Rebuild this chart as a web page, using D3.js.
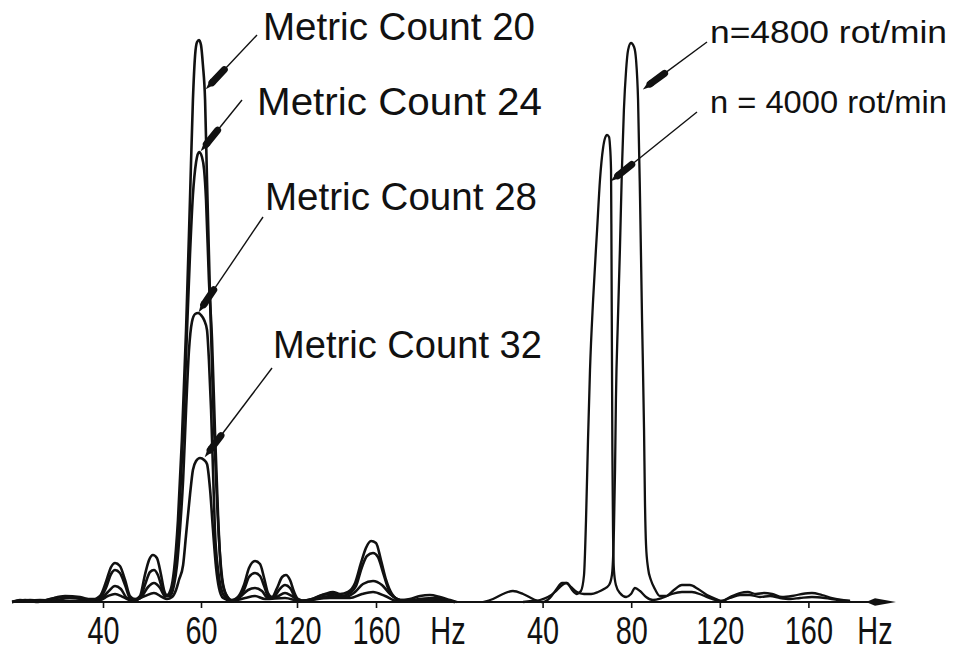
<!DOCTYPE html>
<html>
<head>
<meta charset="utf-8">
<script src="https://cdn.jsdelivr.net/npm/d3@7"></script>
<style>
  html, body { margin: 0; padding: 0; background: #fff; }
  svg { display: block; }
  text { font-family: "Liberation Sans", Arial, sans-serif; fill: #111; }
</style>
</head>
<body>
<div id="chart"></div>
<script>
// left panel: yarn spectra for four metric counts, [Hz, relative amplitude]
const mc20 = [[2.9,0],[6.1,1],[10.2,0.5],[13.5,0],[18.4,1.5],[24.5,3],[30.6,2.5],[35.5,1],[38.8,3],[41.2,10],[43.3,17.5],[44.9,19.5],[46.9,18],[49.0,11],[51.0,3],[53.1,1.5],[55.1,3],[57.1,13.5],[58.8,21],[60.4,23.5],[62.0,22],[63.7,13.5],[64.9,6],[66.1,3.5],[67.8,7],[69.0,16],[70.6,41],[72.2,81],[73.9,136],[75.5,201],[76.7,251],[77.6,273.5],[78.4,280],[79.2,281],[80.0,278.5],[80.8,268.5],[81.7,251],[82.5,211],[83.8,151],[85.0,101],[86.3,61],[87.5,31],[88.8,12],[90.4,4],[92.9,1],[95.4,2.5],[97.9,8.5],[100.0,17],[102.5,20.5],[104.6,19],[106.3,12],[107.9,4.5],[109.6,2.5],[111.7,7],[113.8,12.5],[115.4,13.5],[117.1,11],[118.8,5],[120.5,1.5],[124.1,0.5],[129.1,2],[134.2,4],[138.2,5],[141.8,4],[145.8,5],[149.4,9.5],[152.4,19.5],[154.9,27],[157.5,30.5],[160.0,29.5],[162.5,21],[165.1,11],[168.1,4],[172.2,1],[177.2,1.5],[182.3,3],[187.3,3.5],[192.4,2.5],[197.5,1],[201.0,0]];
const mc24 = [[2.9,0],[8.2,1],[14.3,0.5],[20.4,2],[26.5,2.5],[32.7,1.5],[36.7,1.5],[38.8,2],[41.2,7],[43.3,14],[44.9,16],[46.9,14.5],[49.0,8.5],[51.0,2],[53.1,1],[55.1,2],[57.1,8.5],[59.2,15],[60.8,16],[62.4,13.5],[64.1,7],[65.3,3],[66.5,3],[68.2,7],[69.4,16],[70.6,33.5],[71.8,61],[73.1,96],[74.3,136],[75.5,173.5],[76.7,203.5],[78.0,220],[79.2,225],[80.4,222.5],[81.3,216],[82.1,201],[83.3,161],[84.6,131],[85.8,86],[87.1,43.5],[88.3,16],[89.6,6],[91.3,2],[92.9,0.5],[95.4,2],[97.9,6],[100.0,12.5],[102.5,14.5],[104.6,13],[106.3,8],[107.9,3],[110.0,2],[112.5,6],[115.0,8.5],[117.1,7],[119.2,2.5],[121.5,0.5],[127.6,1.5],[132.7,3.5],[137.7,4],[142.8,3],[146.8,4.5],[149.9,8],[152.9,17.5],[155.4,23],[158.5,24.5],[161.0,22.5],[163.5,15],[166.1,7],[169.1,2.5],[174.7,0.5],[182.3,1.5],[189.9,2],[197.5,0.5]];
const mc28 = [[2.9,0],[10.2,1],[18.4,0.5],[26.5,2],[33.9,1],[36.7,0.5],[39.6,2],[42.0,5],[44.9,8],[47.3,6.5],[49.8,2],[53.1,1],[55.9,3],[58.4,7.5],[60.8,9.5],[63.3,7],[65.3,3],[67.3,3],[69.0,8.5],[70.2,18.5],[71.4,36],[72.7,61],[73.9,96],[75.1,126],[76.3,140],[77.6,144],[78.8,144.5],[80.0,143.5],[81.3,141],[82.5,136],[83.3,121],[84.2,96],[85.0,66],[85.8,36],[87.1,16],[88.3,7],[90.0,2.5],[92.9,0.5],[96.3,2.5],[99.6,6],[102.5,7],[105.4,5.5],[107.9,2],[111.3,2.5],[115.0,4.5],[117.9,3],[121.5,0.5],[129.1,1.5],[136.7,3],[144.3,2.5],[149.4,5],[153.4,9],[158.5,10.5],[163.0,8.5],[167.1,4],[172.2,1],[182.3,0.5],[192.4,1],[200.0,0]];
const mc32 = [[2.9,0],[14.3,1],[26.5,0.5],[38.8,1],[42.0,3],[44.9,4],[48.2,2.5],[51.8,0.5],[57.1,3],[60.8,4.5],[64.1,2.5],[66.1,1.5],[68.2,2.5],[69.8,6],[71.0,11],[72.7,18.5],[73.9,33.5],[75.5,53.5],[76.7,66],[78.0,70.5],[79.6,72],[81.3,71],[82.5,69],[83.8,56],[85.0,36],[86.3,17],[87.5,7],[89.2,2],[92.9,0.5],[98.4,2],[102.5,3],[106.7,1.5],[115.0,2],[121.5,0.5],[136.7,2],[146.8,2],[152.9,4],[158.5,5],[164.6,3],[170.6,0.5],[182.3,1],[200.0,0]];

// right panel: spectra at two spindle speeds
const n4800 = [[31.2,0],[35.2,0.5],[38.8,1],[42.4,2.5],[45.6,5],[48.3,8],[50.6,9.5],[52.8,7.5],[55.5,5],[58.7,4],[61.9,4],[65.0,5],[67.7,6.5],[70.0,8.5],[71.3,13.5],[72.2,36],[72.7,66],[73.1,101],[74.0,141],[74.9,176],[75.8,216],[76.7,246],[77.7,266],[78.6,276],[79.9,279.5],[81.3,277.5],[82.2,271],[83.1,251],[84.0,201],[84.9,141],[85.8,86],[86.2,51],[86.7,28.5],[87.6,17],[88.9,11],[90.7,6.5],[93.0,3],[95.7,3],[99.3,6],[102.9,8.5],[106.5,8.5],[110.2,6.5],[114.2,3.5],[118.3,1.5],[121.0,0.5],[124.6,2.5],[129.1,4.5],[132.7,5],[136.3,4],[140.0,4.5],[143.6,4],[148.1,2.5],[152.6,3],[157.1,4],[161.6,4.5],[166.1,3.5],[170.7,2],[175.2,1],[178.8,0.5]];
const n4000 = [[13.1,0],[17.6,1.5],[22.1,4],[26.6,5.5],[31.2,4],[35.7,1.5],[39.7,0],[43.3,2],[46.0,6],[48.8,9.5],[51.0,9.5],[53.3,6],[55.5,4],[57.3,5.5],[58.7,13.5],[59.6,41],[60.5,81],[61.4,116],[62.8,151],[64.6,186],[65.9,211],[67.3,227],[68.2,232],[69.1,233.5],[70.0,232.5],[70.4,228.5],[70.9,216],[71.1,176],[71.3,126],[71.5,76],[71.8,36],[72.2,16],[73.1,8.5],[74.9,4.5],[77.7,2.5],[79.9,4],[81.7,7],[84.0,5.5],[86.7,2.5],[89.8,1],[93.9,2],[98.4,4],[102.9,5],[107.4,5],[112.0,3.5],[116.5,1.5],[120.5,0.5],[124.6,2],[129.1,3.5],[133.6,3.5],[138.1,2.5],[142.7,3],[147.2,2],[151.7,1.5],[156.2,2],[161.6,2.5],[167.5,2],[173.4,1],[178.8,0.5]];

const leftTicks = [40, 80, 120, 160];
const leftTickLabels = ["40", "60", "120", "160"];
const rightTicks = [40, 80, 120, 160];
const rightTickLabels = ["40", "80", "120", "160"];

const leftNames = ["Metric Count 20", "Metric Count 24", "Metric Count 28", "Metric Count 32"];
const rightNames = ["n=4800 rot/min", "n = 4000 rot/min"];
// points on the curves that the leader lines touch
const leftTargets = [[81.7, 256], [79.6, 225], [78.8, 144.5], [81.3, 72]];
const rightTargets = [[84.9, 256], [70.4, 210]];

const width = 958, height = 653;
const base = 602;

const svg = d3.select("#chart").append("svg")
  .attr("width", width)
  .attr("height", height);

const xLeft = d3.scaleLinear().domain([40, 80, 120, 160]).range([103, 201, 297, 376]);
const xRight = d3.scaleLinear().domain([0, 200]).range([454, 897]);
const y = d3.scaleLinear().domain([0, 281]).range([base, 40]);

// baseline running under both panels, ending in an arrow
svg.append("line")
  .attr("x1", 12).attr("x2", 870)
  .attr("y1", base).attr("y2", base)
  .attr("stroke", "#111").attr("stroke-width", 1.8);
svg.append("path")
  .attr("d", `M866,${base} L875,${base - 3.8} L896,${base} L875,${base + 3.8} Z`)
  .attr("fill", "#111");

function addAxis(scale, ticks, labels, hzX) {
  const g = svg.append("g")
    .attr("transform", `translate(0,${base})`)
    .call(d3.axisBottom(scale)
      .tickValues(ticks)
      .tickFormat((d, i) => labels[i])
      .tickSize(6)
      .tickPadding(0));
  g.select(".domain").remove();
  g.selectAll(".tick line").attr("stroke", "#111").attr("stroke-width", 1.6);
  g.selectAll(".tick text")
    .attr("y", 42).attr("dy", null)
    .attr("font-size", 38)
    .attr("font-family", "Liberation Sans, Arial, sans-serif")
    .attr("fill", "#111")
    .attr("transform", "scale(0.76,1)");
  g.append("text")
    .attr("transform", `translate(${hzX},42) scale(0.76,1)`)
    .attr("text-anchor", "middle")
    .attr("font-size", 38)
    .text("Hz");
}
addAxis(xLeft, leftTicks, leftTickLabels, 448);
addAxis(xRight, rightTicks, rightTickLabels, 875);

const lineLeft = d3.line().x(d => xLeft(d[0])).y(d => y(d[1])).curve(d3.curveMonotoneX);
const lineRight = d3.line().x(d => xRight(d[0])).y(d => y(d[1])).curve(d3.curveMonotoneX);

svg.selectAll(".left-curve")
  .data([mc32, mc28, mc24, mc20])
  .join("path")
  .attr("class", "left-curve")
  .attr("d", lineLeft)
  .attr("fill", "none")
  .attr("stroke", "#111")
  .attr("stroke-width", 2.6)
  .attr("stroke-linejoin", "round");

svg.selectAll(".right-curve")
  .data([n4000, n4800])
  .join("path")
  .attr("class", "right-curve")
  .attr("d", lineRight)
  .attr("fill", "none")
  .attr("stroke", "#111")
  .attr("stroke-width", 2.3)
  .attr("stroke-linejoin", "round");

// leader line: thin stroke with an elongated pointer at the curve
function pointer(fx, fy, tx, ty) {
  const dx = tx - fx, dy = ty - fy;
  const len = Math.hypot(dx, dy);
  const ux = dx / len, uy = dy / len;
  const px = -uy, py = ux;
  svg.append("line")
    .attr("x1", fx).attr("y1", fy).attr("x2", tx - ux * 20).attr("y2", ty - uy * 20)
    .attr("stroke", "#111").attr("stroke-width", 1.4);
  svg.append("line")
    .attr("x1", tx - ux * 28).attr("y1", ty - uy * 28)
    .attr("x2", tx - ux * 10).attr("y2", ty - uy * 10)
    .attr("stroke", "#111").attr("stroke-width", 7).attr("stroke-linecap", "round");
  const bx = tx - ux * 12, by = ty - uy * 12;
  svg.append("path")
    .attr("d", `M${bx + px * 3.6},${by + py * 3.6} L${tx - ux},${ty - uy} L${bx - px * 3.6},${by - py * 3.6} Z`)
    .attr("fill", "#111");
}

// label layout: [text x, baseline y, text length, leader start x, leader start y]
const leftLayout = [[263, 40, 272, 257, 35], [257, 115, 285, 242, 100], [265, 210, 272, 263, 217], [273, 358, 269, 272, 368]];
const rightLayout = [[710, 43, 237, 707, 42], [710, 113, 237, 697, 112]];

leftNames.forEach((name, i) => {
  const L = leftLayout[i];
  svg.append("text")
    .attr("x", L[0]).attr("y", L[1])
    .attr("font-size", 38)
    .attr("textLength", L[2])
    .attr("lengthAdjust", "spacingAndGlyphs")
    .text(name);
  pointer(L[3], L[4], xLeft(leftTargets[i][0]), y(leftTargets[i][1]));
});

rightNames.forEach((name, i) => {
  const L = rightLayout[i];
  svg.append("text")
    .attr("x", L[0]).attr("y", L[1])
    .attr("font-size", 31)
    .attr("textLength", L[2])
    .attr("lengthAdjust", "spacingAndGlyphs")
    .text(name);
  pointer(L[3], L[4], xRight(rightTargets[i][0]), y(rightTargets[i][1]));
});
</script>
</body>
</html>
